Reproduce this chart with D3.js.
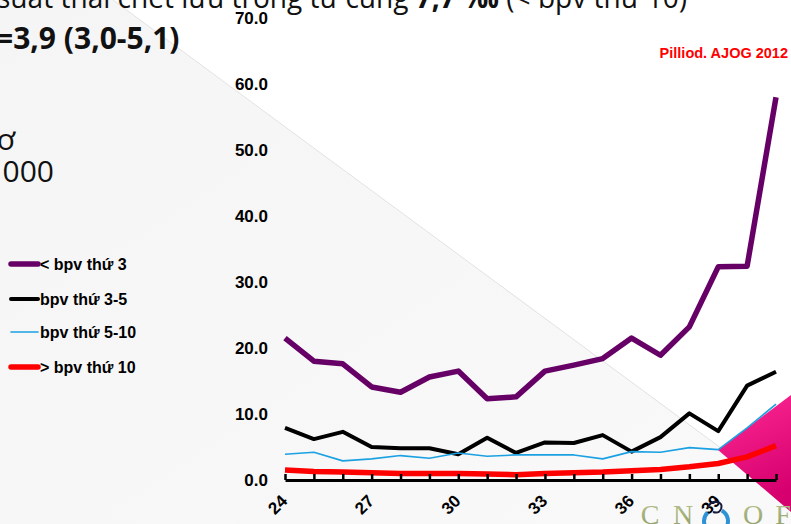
<!DOCTYPE html>
<html>
<head>
<meta charset="utf-8">
<script src="https://cdn.jsdelivr.net/npm/d3@7"></script>
<style>
  html, body { margin: 0; padding: 0; background: #ffffff; overflow: hidden; }
  svg { display: block; }
</style>
</head>
<body>
<svg id="chart" width="791" height="524"></svg>
<script>
// Gestational age (weeks) on the x axis
const weeks = [24, 25, 26, 27, 28, 29, 30, 31, 32, 33, 34, 35, 36, 37, 38, 39, 40, 41];
const weekLabels = [24, 27, 30, 33, 36, 39];
const yTicks = [0, 10, 20, 30, 40, 50, 60, 70];

// Stillbirth rate (‰) by birth-weight percentile group
const seriesNames = ["< bpv thứ 3", "bpv thứ 3-5", "bpv thứ 5-10", "> bpv thứ 10"];
const below3 = [21.5, 18.0, 17.6, 14.1, 13.3, 15.6, 16.5, 12.3, 12.6, 16.5, 17.4, 18.4, 21.5, 18.9, 23.2, 32.3, 32.4, 58.0];
const from3to5 = [7.9, 6.2, 7.3, 5.0, 4.8, 4.8, 3.9, 6.4, 4.1, 5.7, 5.6, 6.8, 4.3, 6.5, 10.1, 7.4, 14.3, 16.4];
const from5to10 = [3.9, 4.2, 2.9, 3.2, 3.7, 3.3, 4.1, 3.6, 3.8, 3.8, 3.8, 3.2, 4.3, 4.2, 4.9, 4.6, 7.9, 11.5];
const above10 = [1.5, 1.3, 1.2, 1.1, 1.0, 1.0, 1.0, 0.9, 0.8, 1.0, 1.1, 1.2, 1.4, 1.6, 2.0, 2.5, 3.5, 5.2];
const seriesValues = [below3, from3to5, from5to10, above10];
const seriesColors = ["#660066", "#000000", "#1ba1e2", "#ff0000"];
const seriesWidths = [5.5, 4, 1.6, 5.5];

const svg = d3.select("#chart");
const W = 791, H = 524;

// ---- slide background ----
const defs = svg.append("defs");
const bg = defs.append("linearGradient").attr("id", "bgShade")
  .attr("x1", "0").attr("y1", "0").attr("x2", "1").attr("y2", "1");
bg.append("stop").attr("offset", "0").attr("stop-color", "#f5f5f5");
bg.append("stop").attr("offset", "1").attr("stop-color", "#f9f9f9");

const pink = defs.append("linearGradient").attr("id", "pinkFill")
  .attr("x1", "0").attr("y1", "0").attr("x2", "0.3").attr("y2", "1");
pink.append("stop").attr("offset", "0").attr("stop-color", "#ff2a95");
pink.append("stop").attr("offset", "1").attr("stop-color", "#d6006e");

const logoInk = defs.append("linearGradient").attr("id", "logoInk")
  .attr("x1", "0").attr("y1", "0").attr("x2", "0").attr("y2", "1");
logoInk.append("stop").attr("offset", "0").attr("stop-color", "#b9c48e");
logoInk.append("stop").attr("offset", "1").attr("stop-color", "#8e9c66");

svg.append("rect").attr("width", W).attr("height", H).attr("fill", "#ffffff");
// shaded band below the diagonal
const diag = x => 0.737 * (x - 113);
svg.append("path")
  .attr("d", `M0,0 L113,0 L${W},${diag(W)} L${W},${H} L0,${H} Z`)
  .attr("fill", "url(#bgShade)");
svg.append("line")
  .attr("x1", 113).attr("y1", 0).attr("x2", W).attr("y2", diag(W))
  .attr("stroke", "#e2e2e2").attr("stroke-width", 1);

// magenta corner accent
svg.append("path")
  .attr("d", "M718,450 L791,395 L791,512 Z")
  .attr("fill", "url(#pinkFill)");

// ---- heading text (slide body) ----
const bodyFont = "'Open Sans', 'Noto Sans', sans-serif";
const t1 = svg.append("text")
  .attr("x", -3).attr("y", 8)
  .attr("font-family", bodyFont).attr("font-size", 30).attr("fill", "#111")
  .attr("textLength", 690).attr("lengthAdjust", "spacingAndGlyphs");
t1.append("tspan").text("suất thai chết lưu trong tử cung ");
t1.append("tspan").attr("font-weight", "bold").text("7,7 ‰");
t1.append("tspan").text(" (< bpv thứ 10)");

svg.append("text")
  .attr("x", -4).attr("y", 49)
  .attr("font-family", bodyFont).attr("font-size", 30).attr("font-weight", "bold").attr("fill", "#111")
  .text("=3,9 (3,0-5,1)");

svg.append("text")
  .attr("x", 15).attr("y", 150).attr("text-anchor", "end")
  .attr("font-family", bodyFont).attr("font-size", 30).attr("fill", "#111")
  .text("ơ");
svg.append("text")
  .attr("x", 54).attr("y", 182).attr("text-anchor", "end")
  .attr("font-family", bodyFont).attr("font-size", 30).attr("fill", "#111")
  .text("000");

// ---- chart ----
const chartFont = "'Liberation Sans', Arial, sans-serif";
const x = d3.scalePoint().domain(weeks).range([285, 776]);
const y = d3.scaleLinear().domain([0, 70]).range([480, 18]);

// y axis: labels only
const yAxis = svg.append("g")
  .attr("transform", "translate(285,0)")
  .call(d3.axisLeft(y).tickValues(yTicks).tickFormat(d3.format(".1f")).tickSize(0).tickPadding(17));
yAxis.select(".domain").remove();
yAxis.selectAll("text")
  .attr("font-family", chartFont).attr("font-size", 17).attr("font-weight", "bold").attr("fill", "#000");

// series lines
const line = d3.line()
  .x((d, i) => x(weeks[i]))
  .y(d => y(d));
seriesValues.forEach((vals, k) => {
  svg.append("path")
    .datum(vals)
    .attr("d", line)
    .attr("fill", "none")
    .attr("stroke", seriesColors[k])
    .attr("stroke-width", seriesWidths[k])
    .attr("stroke-linejoin", "round")
    .attr("stroke-linecap", "butt");
});

// x axis: ticks pointing into the plot
const xAxis = svg.append("g")
  .attr("transform", `translate(0,${y(0)})`)
  .call(d3.axisBottom(x).tickSizeInner(-6).tickSizeOuter(0)
    .tickFormat(d => weekLabels.includes(d) ? d : ""));
xAxis.select(".domain").attr("stroke", "#000").attr("stroke-width", 3);
xAxis.selectAll(".tick line").attr("stroke", "#000").attr("stroke-width", 2.5);
xAxis.selectAll("text")
  .attr("font-family", chartFont).attr("font-size", 17).attr("font-weight", "bold").attr("fill", "#000")
  .attr("text-anchor", "end")
  .attr("dy", null).attr("y", 0)
  .attr("transform", "translate(3,22) rotate(-45)");

// legend
const legendY = [264, 299, 332, 367];
seriesNames.forEach((name, k) => {
  const g = svg.append("g").attr("transform", `translate(0,${legendY[k]})`);
  g.append("line")
    .attr("x1", 11).attr("x2", 38).attr("y1", 0).attr("y2", 0)
    .attr("stroke", seriesColors[k])
    .attr("stroke-width", seriesWidths[k])
    .attr("stroke-linecap", "round");
  g.append("text")
    .attr("x", 40).attr("y", 6)
    .attr("font-family", chartFont).attr("font-size", 16).attr("font-weight", "bold").attr("fill", "#000")
    .text(name);
});

// source note
svg.append("text")
  .attr("x", 788).attr("y", 58).attr("text-anchor", "end")
  .attr("font-family", chartFont).attr("font-size", 14.5).attr("font-weight", "bold").attr("fill", "#ff0000")
  .text("Pilliod. AJOG 2012");

// ---- society mark, bottom right ----
const logoFont = "'Liberation Serif', 'DejaVu Serif', serif";
const logoLetters = [["C", 650], ["N", 683], ["O", 753], ["F", 783]];
logoLetters.forEach(([ch, cx]) => {
  svg.append("text")
    .attr("x", cx).attr("y", 524).attr("text-anchor", "middle")
    .attr("font-family", logoFont).attr("font-size", 28).attr("fill", "url(#logoInk)")
    .text(ch);
});
svg.append("path")
  .attr("d", d3.arc()({ innerRadius: 10, outerRadius: 14, startAngle: 0.5, endAngle: 5.5 }))
  .attr("transform", "translate(716,521)")
  .attr("fill", "#2e93d6");
svg.append("path")
  .attr("d", "M708,508 q2,-7 9,-6 q6,1 4,7 q-2,5 -8,3")
  .attr("fill", "none").attr("stroke", "#1a1a3a").attr("stroke-width", 2);
</script>
</body>
</html>
